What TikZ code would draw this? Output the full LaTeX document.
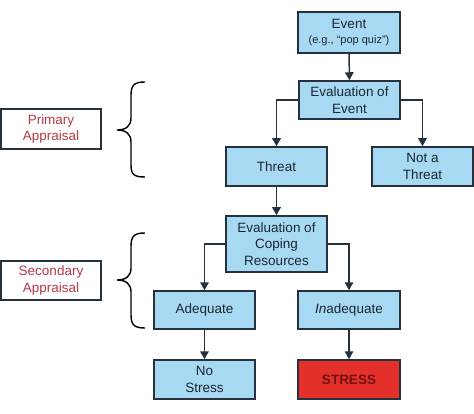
\documentclass[tikz,border=0pt]{standalone}
\usepackage{fontspec}
\setmainfont{Liberation Sans}
\usetikzlibrary{arrows.meta}
\definecolor{boxblue}{HTML}{A8D9F3}
\definecolor{boxline}{HTML}{25313C}
\definecolor{boxtext}{HTML}{1A2633}
\definecolor{stressred}{HTML}{E3302B}
\definecolor{stresstext}{HTML}{701212}
\definecolor{labelred}{HTML}{B4384A}
\tikzset{
  flowbox/.style={draw=boxline, line width=1.5pt, fill=boxblue, text=boxtext, rectangle,
    inner sep=0pt, align=center, font=\fontsize{13.5}{16.5}\selectfont},
  stressbox/.style={flowbox, fill=stressred, text=stresstext, font=\fontsize{13.5}{16.5}\selectfont\bfseries},
  labelbox/.style={draw=boxline, line width=1.3pt, fill=white, text=labelred, rectangle,
    inner sep=0pt, align=center, font=\fontsize{13.5}{16.5}\selectfont},
  conn/.style={draw=boxline, line width=1.5pt, -{Triangle[length=8pt,width=8.5pt]}},
  bracestyle/.style={draw=black, line width=1.4pt}
}
\begin{document}
\begin{tikzpicture}[x=1pt,y=-1pt]
\useasboundingbox (0,0) rectangle (474,414);
\node[flowbox, minimum width=102pt, minimum height=41pt] (event) at (349,32.5)
  {Event\\[-2pt]{\fontsize{11}{13}\selectfont (e.g., “pop quiz”)}};
\node[flowbox, minimum width=101pt, minimum height=38pt] (ee) at (349.5,100) {Evaluation of\\Event};
\node[flowbox, minimum width=101pt, minimum height=39pt] (threat) at (276.5,166.5) {Threat};
\node[flowbox, minimum width=101pt, minimum height=39pt] (nt) at (422.5,166.5) {Not a\\Threat};
\node[flowbox, minimum width=101pt, minimum height=56pt] (ec) at (276.5,244) {Evaluation of\\Coping\\Resources};
\node[flowbox, minimum width=101pt, minimum height=38pt] (adeq) at (204.5,310) {Adequate};
\node[flowbox, minimum width=102pt, minimum height=38pt] (inad) at (349,310) {\textit{In}adequate};
\node[flowbox, minimum width=101pt, minimum height=39pt] (nostress) at (204.5,379.5) {No\\Stress};
\node[stressbox, minimum width=102pt, minimum height=39pt] (stress) at (349,379.5) {STRESS};
\node[labelbox, minimum width=100pt, minimum height=40pt] (prim) at (51,129) {Primary\\Appraisal};
\node[labelbox, minimum width=100pt, minimum height=39pt] (sec) at (51,280.5) {Secondary\\Appraisal};
\draw[conn] (event) -- (ee);
\draw[conn] (ee.west) -| (threat.north);
\draw[conn] (ee.east) -| (nt.north);
\draw[conn] (threat) -- (ec);
\draw[conn] (ec.west) -| (adeq.north);
\draw[conn] (ec.east) -| (inad.north);
\draw[conn] (adeq) -- (nostress);
\draw[conn] (inad) -- (stress);
% braces
\draw[bracestyle] (145,82) .. controls (133,82) and (131,86) .. (131,96)
  -- (131,118) .. controls (131,126) and (126,130) .. (117,130)
  .. controls (126,130) and (131,134) .. (131,142)
  -- (131,164) .. controls (131,174) and (133,177) .. (145,177);
\draw[bracestyle] (145,233) .. controls (133,233) and (131,237) .. (131,247)
  -- (131,268) .. controls (131,276) and (126,280) .. (117,280)
  .. controls (126,280) and (131,284) .. (131,292)
  -- (131,314) .. controls (131,324) and (133,328) .. (145,328);
\end{tikzpicture}
\end{document}
